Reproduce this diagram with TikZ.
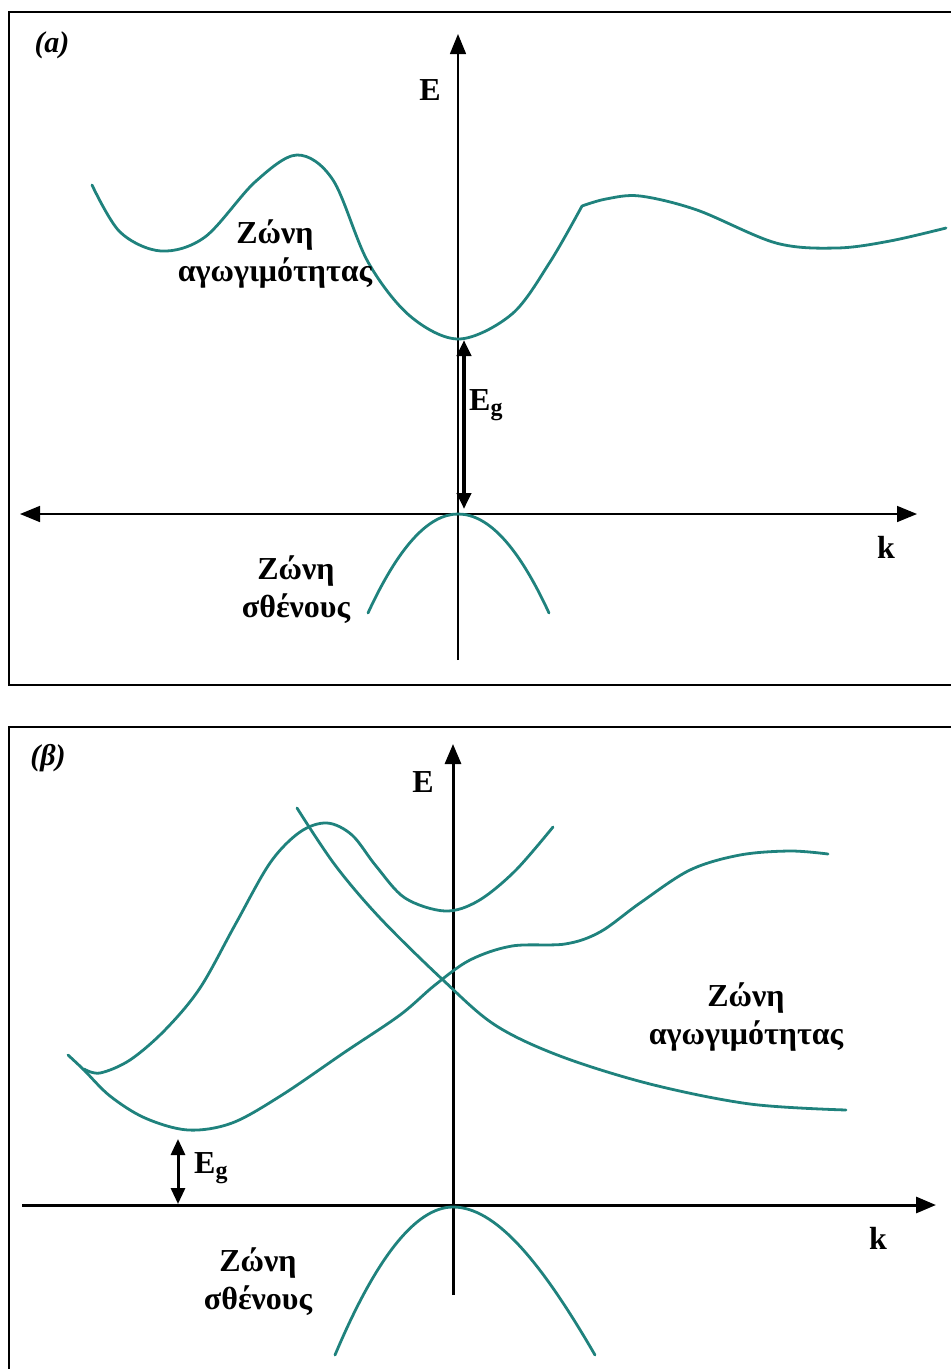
\documentclass[tikz,border=0pt]{standalone}
\usepackage{fontspec}
\setmainfont{Liberation Serif}
\usetikzlibrary{arrows.meta,positioning}
\definecolor{band}{HTML}{1F827D}
\newcommand{\gapsym}{E\raisebox{-0.35ex}{\fontsize{24}{24}\selectfont g}}

\begin{document}
\begin{tikzpicture}[x=1pt,y=-1pt,>={Triangle[length=20pt,width=16pt]},
  lbl/.style={font=\fontsize{32}{38}\selectfont\bfseries,align=center,inner sep=0pt},
  tag/.style={font=\fontsize{30}{36}\selectfont\bfseries\itshape,inner sep=0pt},
  curve/.style={band,line width=2.8pt,line cap=round,line join=round},
  gaparrow/.style={line width=4pt,{Triangle[length=16pt,width=14pt]}-{Triangle[length=16pt,width=14pt]}}]
\useasboundingbox (0,0) rectangle (951,1369);

% ---------- panel (a) ----------
\draw[line width=2.4pt] (951,12) -- (9,12) -- (9,685) -- (951,685);
\node[tag] (tagA) at (52,45) {(a)};

\coordinate (EbotA) at (458,660);
\coordinate (EtopA) at (458,34);
\coordinate (kleftA) at (20,514);
\coordinate (krightA) at (917,514);
\draw[line width=1.4pt,->] (EbotA) -- (EtopA);
\draw[line width=1.6pt,<->] (kleftA) -- (krightA);
\node[lbl] (EA) at (430,90) {E};
\node[lbl] (kA) at (886,547) {k};

% conduction band
\draw[curve] plot[smooth,tension=0.55] coordinates {(92,185) (120,232) (161,251) (205,237)
  (255,182) (297,155) (333,180) (368,262) (410,316) (459,339) (512,314)
  (550,262) (582,206)};
\draw[curve] plot[smooth,tension=0.55] coordinates {(582,206) (606,199) (640,196) (697,210)
  (776,243) (837,248) (890,241) (946,228)};
% valence band
\draw[curve] (368,613) .. controls (398,548) and (428,514) .. (458,514)
  .. controls (489,514) and (519,548) .. (549,613);

\coordinate (gtopA) at (464,340);
\coordinate (gbotA) at (464,509);
\draw[gaparrow] (gbotA) -- (gtopA);
\node[lbl,anchor=west] (EgA) at (469,405) {\gapsym};

\node[lbl] (condA) at (275,254) {Ζώνη\\αγωγιμότητας};
\node[lbl] (valA) at (296,590) {Ζώνη\\σθένους};

% ---------- panel (b) ----------
\draw[line width=2.4pt] (951,727) -- (9,727) -- (9,1380);
\node[tag] (tagB) at (48,758) {(β)};

\coordinate (EbotB) at (453,1295);
\coordinate (EtopB) at (453,744);
\coordinate (kleftB) at (22,1205);
\coordinate (krightB) at (936,1205);
\draw[line width=3pt,->] (EbotB) -- (EtopB);
\draw[line width=3pt,->] (kleftB) -- (krightB);
\node[lbl] (EB) at (423,782) {E};
\node[lbl] (kB) at (878,1238) {k};

% conduction bands
\draw[curve] plot[smooth,tension=0.55] coordinates {(84,1069) (100,1073) (130,1060)
  (165,1030) (200,988) (235,925) (270,863) (300,832) (327,823) (352,835) (376,866)
  (405,898) (445,911) (478,901) (515,871) (553,827)};
\draw[curve] plot[smooth,tension=0.55] coordinates {(68,1055) (84,1070) (110,1096) (145,1118)
  (188,1130) (232,1123) (282,1095) (345,1052) (400,1015) (435,985) (470,960) (512,946)
  (565,944) (600,932) (640,903) (690,870) (740,855) (790,851) (828,854)};
\draw[curve] plot[smooth,tension=0.55] coordinates {(297,808) (335,865) (380,918)
  (443,980) (495,1025) (560,1056) (650,1084) (750,1104) (846,1110)};
% valence band
\draw[curve] (335,1355) .. controls (375,1260) and (415,1207) .. (453,1207)
  .. controls (495,1207) and (540,1260) .. (595,1355);

\coordinate (gtopB) at (178,1139);
\coordinate (gbotB) at (178,1204);
\draw[gaparrow,line width=3pt] (gbotB) -- (gtopB);
\node[lbl,anchor=west] (EgB) at (194,1168) {\gapsym};

\node[lbl] (condB) at (746,1017) {Ζώνη\\αγωγιμότητας};
\node[lbl] (valB) at (258,1282) {Ζώνη\\σθένους};
\end{tikzpicture}
\end{document}
